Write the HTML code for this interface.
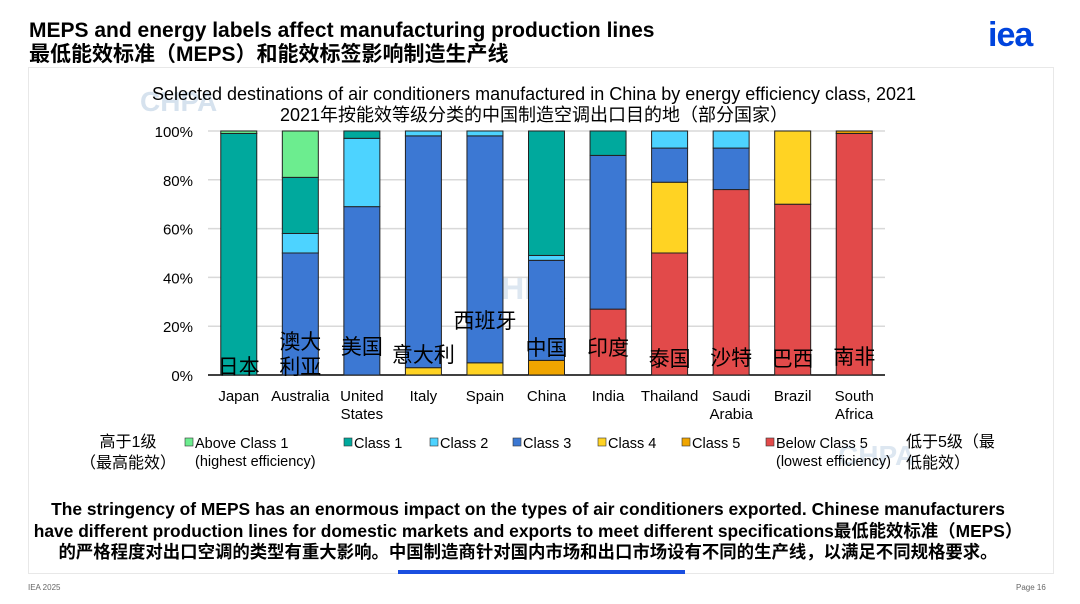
<!DOCTYPE html>
<html><head><meta charset="utf-8"><style>
body{margin:0;width:1080px;height:604px;background:#fff;position:relative;overflow:hidden;font-family:"Liberation Sans","Noto Sans CJK SC",sans-serif;}
.a{position:absolute;white-space:nowrap;}
</style></head><body>
<div class="a" style="left:29px;top:19px;font-size:21px;font-weight:bold;color:#000;line-height:24px;">MEPS and energy labels affect manufacturing production lines<br>最低能效标准（MEPS）和能效标签影响制造生产线</div>
<div class="a" style="left:988px;top:16px;font-size:34px;font-weight:bold;color:#0044dd;letter-spacing:-1px;">iea</div>
<div class="a" style="left:28px;top:67px;width:1024px;height:505px;border:1px solid #e8e8e8;"></div>
<div class="a" style="left:140px;top:86px;font-size:28px;font-weight:bold;color:rgba(120,160,200,0.3);">CHPA</div>
<div class="a" style="left:478px;top:270px;font-size:32px;font-weight:bold;color:rgba(120,160,200,0.25);">CHPA</div>
<div class="a" style="left:838px;top:440px;font-size:28px;font-weight:bold;color:rgba(120,160,200,0.25);">CHPA</div>
<div class="a" style="left:0;width:1068px;top:84px;text-align:center;font-size:18px;line-height:21px;color:#000;">Selected destinations of air conditioners manufactured in China by energy efficiency class, 2021<br>2021年按能效等级分类的中国制造空调出口目的地（部分国家）</div>
<svg class="a" style="left:0;top:0" width="1080" height="604" id="chart"></svg>
<div class="a" style="left:80px;top:432px;font-size:16px;line-height:21px;text-align:center;">高于1级<br>（最高能效）</div>
<div class="a" style="left:906px;top:432px;font-size:16px;line-height:21px;">低于5级（最<br>低能效）</div>
<div class="a" style="left:0;width:1056px;top:499px;text-align:center;font-size:17.4px;font-weight:bold;line-height:21.5px;">The stringency of MEPS has an enormous impact on the types of air conditioners exported. Chinese manufacturers<br>have different production lines for domestic markets and exports to meet different specifications最低能效标准（MEPS）<br>的严格程度对出口空调的类型有重大影响。中国制造商针对国内市场和出口市场设有不同的生产线，以满足不同规格要求。</div>
<div class="a" style="left:398px;top:570px;width:287px;height:4px;background:#1a4fe0;"></div>
<div class="a" style="left:28px;top:583px;font-size:8px;color:#666;">IEA 2025</div>
<div class="a" style="left:1016px;top:583px;font-size:8px;color:#666;">Page 16</div>
<script>
const categories=["Japan","Australia","United\nStates","Italy","Spain","China","India","Thailand","Saudi\nArabia","Brazil","South\nAfrica"];
const cnLabels=["日本","澳大\n利亚","美国","意大利","西班牙","中国","印度","泰国","沙特","巴西","南非"];
const seriesNames=["Below Class 5","Class 5","Class 4","Class 3","Class 2","Class 1","Above Class 1"];
const belowClass5=[0,0,0,0,0,0,27,50,76,70,99];
const class5=[0,0,0,0,0,6,0,0,0,0,1];
const class4=[0,0,0,3,5,0,0,29,0,30,0];
const class3=[0,50,69,95,93,41,63,14,17,0,0];
const class2=[0,8,28,2,2,2,0,7,7,0,0];
const class1=[99,23,3,0,0,51,10,0,0,0,0];
const aboveClass1=[1,19,0,0,0,0,0,0,0,0,0];
const yTicks=[0,20,40,60,80,100];
const colors=["#e24a4a","#f0a500","#ffd323","#3c78d3","#4dd3ff","#00a99d","#6ced8f"];
const series=[belowClass5,class5,class4,class3,class2,class1,aboveClass1];
const svg=document.getElementById('chart');const NS="http://www.w3.org/2000/svg";
const x0=208,x1=885,yB=375,yT=131;
const y=v=>yB-(v/100)*(yB-yT);
const step=(x1-x0)/categories.length,bw=36;
const cx=i=>x0+step*(i+0.5);
function mk(t,a){const e=document.createElementNS(NS,t);for(const k in a)e.setAttribute(k,a[k]);svg.appendChild(e);return e;}
yTicks.forEach(t=>{
 const g=mk('line',{x1:x0,x2:x1,y1:y(t),y2:y(t),stroke:t===0?'#000':'#d9d9d9','stroke-width':1.5});
 
 
 const l=mk('text',{x:193,y:y(t)+6,'text-anchor':'end','font-size':15,'font-family':'Liberation Sans,sans-serif'});
 l.textContent=t+'%';
 
 
});
const cnY=[374,349,354,362,328,355,355,366,365,366,364];
categories.forEach((c,i)=>{
 let acc=0;
 series.forEach((s,k)=>{const v=s[i];if(v<=0)return;
  const r=mk('rect',{x:cx(i)-bw/2,y:y(acc+v),width:bw,height:y(acc)-y(acc+v),fill:colors[k],stroke:'#222','stroke-width':1});
  
  
  acc+=v;});
 c.split('\n').forEach((ln,j)=>{const t=mk('text',{x:cx(i),y:401+j*18,'text-anchor':'middle','font-size':15,'font-family':'Liberation Sans,sans-serif'});t.textContent=ln;
  
  });
 cnLabels[i].split('\n').forEach((ln,j)=>{const t=mk('text',{x:cx(i),y:cnY[i]+j*25,'text-anchor':'middle','font-size':21,'font-family':'Noto Sans CJK SC,sans-serif'});t.textContent=ln;
  
  });
});
const leg=[["Above Class 1\n(highest efficiency)",6,185],["Class 1",5,344],["Class 2",4,430],["Class 3",3,513],["Class 4",2,598],["Class 5",1,682],["Below Class 5\n(lowest efficiency)",0,766]];
leg.forEach(([n,k,x])=>{
 const r=mk('rect',{x:x,y:438,width:8,height:8,fill:colors[k],stroke:'#333','stroke-width':0.6});
 
 
 n.split('\n').forEach((ln,j)=>{const t=mk('text',{x:x+10,y:448+j*18,'font-size':14.5,'font-family':'Liberation Sans,sans-serif'});
  t.textContent=ln;
  
  });
});
</script>
</body></html>
